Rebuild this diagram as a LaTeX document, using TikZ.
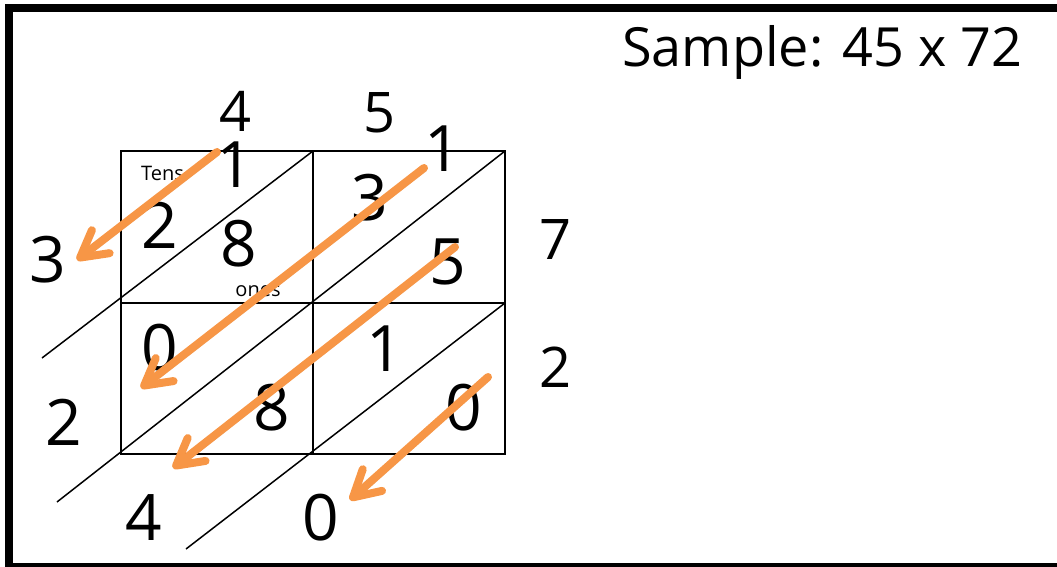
\documentclass[tikz,border=0pt]{standalone}
\usepackage{fontspec}
\setmainfont{Open Sans}
\usetikzlibrary{arrows.meta}
\definecolor{arrorange}{HTML}{F79646}
\begin{document}
\begin{tikzpicture}[x=1pt,y=-1pt,
  gridline/.style={line width=2.6pt},
  diagline/.style={line width=1.5pt},
  celldigit/.style={font=\fontsize{64}{64}\selectfont, inner sep=0pt},
  edgedigit/.style={font=\fontsize{56}{56}\selectfont, inner sep=0pt},
  smalllabel/.style={font=\fontsize{20}{20}\selectfont, inner sep=0pt},
  arr/.style={draw=arrorange, line width=8pt, line cap=round,
    -{Straight Barb[length=26pt,width=29pt,round]},
    preaction={draw=black, draw opacity=0.15,
      transform canvas={xshift=2pt,yshift=-3pt}}}
]
\useasboundingbox (0,0) rectangle (1057,567);
\clip (0,0) rectangle (1057,567);
% frame
\draw[line width=8pt] (9,8) rectangle (1090,567);

% title
\node[anchor=base west, inner sep=0pt, font=\fontsize{54}{54}\selectfont] (title) at (622,67) {Sample: 45 x 72};

% grid
\coordinate (TL) at (121,151);
\coordinate (TM) at (313,151);
\coordinate (TR) at (505,151);
\coordinate (ML) at (121,303);
\coordinate (MR) at (505,303);
\coordinate (BL) at (121,454);
\coordinate (BM) at (313,454);
\coordinate (BR) at (505,454);
\draw[gridline] (TL) rectangle (BR);
\draw[gridline] (TM) -- (BM);
\draw[gridline] (ML) -- (MR);

% diagonals
\coordinate (d1s) at (42,358);
\coordinate (d2s) at (57,502);
\coordinate (d3s) at (186,549);
\draw[diagline] (d1s) -- (TM);
\draw[diagline] (d2s) -- (TR);
\draw[diagline] (d3s) -- (MR);

% outside digits
\node[edgedigit] (top4) at (236,111) {4};
\node[edgedigit] (top5) at (380,113) {5};
\node[edgedigit] (right7) at (556,240) {7};
\node[edgedigit] (right2) at (556,367) {2};
\node[celldigit] (left3) at (48,260) {3};
\node[celldigit] (left2) at (64,422) {2};
\node[celldigit] (bot4) at (144,518) {4};
\node[celldigit] (bot0) at (321,518) {0};

% cell digits
\node[celldigit] (tl1) at (235,165) {1};
\node[celldigit] (tl2) at (160,225) {2};
\node[celldigit] (tl8) at (239,244) {8};
\node[smalllabel, anchor=base west] (tens) at (141,180) {Tens};
\node[smalllabel, anchor=base] (ones) at (258,296) {ones};
\node[celldigit] (tr1) at (443,149) {1};
\node[celldigit] (tr3) at (370,198) {3};
\node[celldigit] (tr5) at (448,262) {5};
\node[celldigit] (bl0) at (160,348) {0};
\node[celldigit] (bl8) at (272,408) {8};
\node[celldigit] (br1) at (385,349) {1};
\node[celldigit] (br0) at (464,408) {0};

% arrows
\coordinate (a1s) at (217,152);
\coordinate (a1e) at (77,260);
\coordinate (a2s) at (424,168);
\coordinate (a2e) at (141,388);
\coordinate (a3s) at (455,247);
\coordinate (a3e) at (173,468);
\coordinate (a4s) at (488,377);
\coordinate (a4e) at (350,500);
\draw[arr] (a1s) -- (a1e);
\draw[arr] (a2s) -- (a2e);
\draw[arr] (a3s) -- (a3e);
\draw[arr] (a4s) -- (a4e);
\end{tikzpicture}
\end{document}
